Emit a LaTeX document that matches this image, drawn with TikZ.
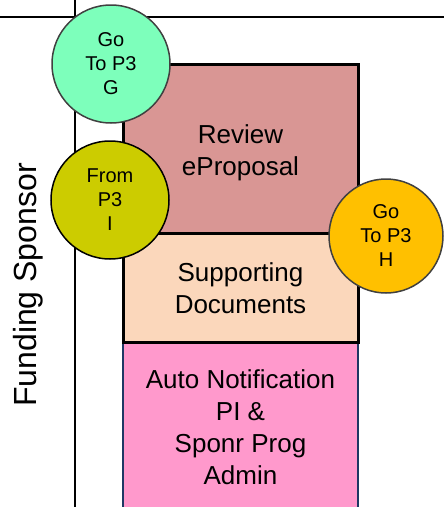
\documentclass[tikz,border=0pt]{standalone}
\usepackage{fontspec}
\setmainfont{Liberation Sans}
\definecolor{revfill}{HTML}{D99694}
\definecolor{supfill}{HTML}{FBD7BB}
\definecolor{autofill}{HTML}{FF99CC}
\definecolor{autoline}{HTML}{1F3864}
\definecolor{gfill}{HTML}{7DFFBB}
\definecolor{ifill}{HTML}{CCCC00}
\definecolor{hfill}{HTML}{FFC000}
\definecolor{circline}{HTML}{404040}
\begin{document}
\begin{tikzpicture}[x=1pt,y=-1pt,
  stepbox/.style={draw=black,line width=3pt,minimum width=235pt,inner sep=0pt,align=center,
    font=\fontsize{26}{32}\selectfont},
  steptext/.style={align=center,font=\fontsize{26}{32}\selectfont,inner sep=0pt},
  conn/.style={circle,draw=circline,line width=1.5pt,minimum size=118pt,inner sep=0pt,align=center,
    font=\fontsize{20}{24}\selectfont},
  lane/.style={draw=black,line width=1.5pt}]
\useasboundingbox (0,0) rectangle (444,507);
\clip (0,0) rectangle (444,507);
% lane lines
\coordinate (vt) at (75,-2);
\coordinate (vb) at (75,510);
\coordinate (hl) at (-2,17);
\coordinate (hr) at (446,17);
\draw[lane] (vt) -- (vb);
\draw[lane] (hl) -- (hr);
% lane label
\node[rotate=90,font=\fontsize{32}{38}\selectfont,inner sep=0pt] (lab) at (28,285) {Funding Sponsor};
% boxes
\node[draw=autoline,line width=2pt,minimum width=235pt,minimum height=175pt,inner sep=0pt,fill=autofill] (auto) at (240.5,429.5) {};
\node[steptext] (autot) at (240.5,427) {Auto Notification\\PI \&\\Sponr Prog\\Admin};
\node[stepbox,fill=supfill,minimum height=109pt] (sup) at (240.5,287.5) {};
\node[steptext] (supt) at (240.5,288) {Supporting\\Documents};
\node[stepbox,fill=revfill,minimum height=169pt] (rev) at (240.5,148.5) {};
\node[steptext] (revt) at (240.5,152.5) {Review\\eProposal};
% connectors (off-page)
\node[conn,fill=gfill] (g) at (111,64) {Go\\To P3\\G};
\node[conn,fill=ifill,draw=black] (i) at (110,200) {From\\P3\\I};
\node[conn,fill=hfill,minimum size=114pt] (h) at (386,236) {Go\\To P3\\H};
\end{tikzpicture}
\end{document}
